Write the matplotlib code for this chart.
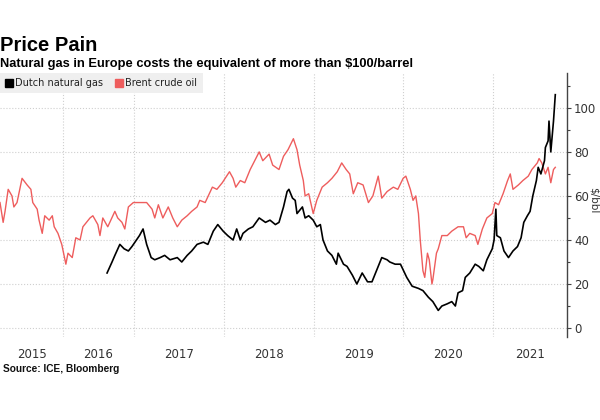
import numpy as np
import matplotlib
matplotlib.use("Agg")
import matplotlib.pyplot as plt
from matplotlib.lines import Line2D
from matplotlib.ticker import FixedLocator, MultipleLocator, NullFormatter

# Brent crude oil, $/bbl (decimal year, value)
brent_dates = [2015.00, 2015.05, 2015.08, 2015.13, 2015.19, 2015.22, 2015.27, 2015.35, 2015.43, 2015.49,
               2015.52, 2015.59, 2015.62, 2015.67, 2015.71, 2015.78, 2015.83, 2015.86, 2015.92, 2015.98,
               2016.04, 2016.07, 2016.13, 2016.18, 2016.24, 2016.28, 2016.38, 2016.42, 2016.49, 2016.52,
               2016.56, 2016.63, 2016.73, 2016.77, 2016.83, 2016.87, 2016.92, 2016.99, 2017.07, 2017.14,
               2017.20, 2017.23, 2017.27, 2017.32, 2017.38, 2017.43, 2017.48, 2017.53, 2017.59, 2017.64,
               2017.70, 2017.73, 2017.79, 2017.87, 2017.92, 2017.98, 2018.06, 2018.10, 2018.13, 2018.18,
               2018.23, 2018.29, 2018.34, 2018.39, 2018.43, 2018.50, 2018.54, 2018.61, 2018.66, 2018.71,
               2018.77, 2018.81, 2018.84, 2018.88, 2018.90, 2018.94, 2018.99, 2019.03, 2019.09, 2019.15,
               2019.20, 2019.26, 2019.31, 2019.36, 2019.40, 2019.44, 2019.49, 2019.55, 2019.61, 2019.66,
               2019.72, 2019.76, 2019.82, 2019.89, 2019.94, 2020.00, 2020.03, 2020.08, 2020.11, 2020.14,
               2020.17, 2020.19, 2020.22, 2020.24, 2020.27, 2020.29, 2020.32, 2020.33, 2020.37, 2020.39,
               2020.43, 2020.49, 2020.54, 2020.61, 2020.67, 2020.70, 2020.74, 2020.80, 2020.83, 2020.88,
               2020.93, 2020.99, 2021.02, 2021.06, 2021.11, 2021.16, 2021.19, 2021.22, 2021.28, 2021.33,
               2021.39, 2021.43, 2021.49, 2021.51, 2021.54, 2021.58, 2021.61, 2021.64, 2021.67, 2021.69]
brent_values = [57, 48, 53, 63, 60, 55, 57, 68, 65, 63,
                57, 54, 49, 43, 51, 49, 51, 46, 43, 38,
                29, 34, 32, 41, 40, 46, 50, 51, 47, 42,
                50, 46, 53, 50, 48, 45, 55, 57, 57, 57,
                54, 50, 56, 50, 55, 50, 46, 49, 51, 53,
                55, 58, 57, 64, 63, 66, 71, 68, 64, 67,
                66, 72, 76, 80, 76, 79, 74, 72, 78, 81,
                86, 81, 74, 67, 60, 61, 52, 58, 64, 66,
                68, 71, 75, 72, 70, 61, 66, 65, 57, 60,
                69, 59, 62, 64, 63, 68, 69, 63, 58, 60,
                52, 40, 26, 23, 34, 31, 20, 22, 34, 36,
                42, 42, 44, 46, 46, 41, 43, 42, 38, 45,
                50, 52, 57, 56, 61, 67, 70, 63, 65, 67,
                69, 72, 75, 77, 75, 70, 73, 66, 72, 73]

# Dutch natural gas, converted to $/bbl equivalent
gas_dates = [2016.62, 2016.69, 2016.73, 2016.80, 2016.86, 2016.92, 2016.97, 2017.01, 2017.06, 2017.10,
             2017.14, 2017.19, 2017.23, 2017.29, 2017.34, 2017.40, 2017.48, 2017.53, 2017.59, 2017.64,
             2017.70, 2017.77, 2017.82, 2017.88, 2017.93, 2017.99, 2018.04, 2018.10, 2018.14, 2018.18,
             2018.21, 2018.27, 2018.32, 2018.39, 2018.46, 2018.51, 2018.57, 2018.61, 2018.66, 2018.70,
             2018.72, 2018.76, 2018.79, 2018.81, 2018.87, 2018.90, 2018.94, 2018.99, 2019.03, 2019.07,
             2019.10, 2019.15, 2019.20, 2019.25, 2019.27, 2019.33, 2019.37, 2019.43, 2019.48, 2019.54,
             2019.60, 2019.65, 2019.71, 2019.76, 2019.82, 2019.85, 2019.91, 2019.97, 2020.04, 2020.10,
             2020.17, 2020.22, 2020.28, 2020.33, 2020.39, 2020.43, 2020.49, 2020.54, 2020.58, 2020.61,
             2020.66, 2020.69, 2020.74, 2020.80, 2020.84, 2020.89, 2020.93, 2020.99, 2021.01, 2021.03,
             2021.04, 2021.08, 2021.12, 2021.17, 2021.22, 2021.27, 2021.31, 2021.34, 2021.38, 2021.41,
             2021.44, 2021.48, 2021.50, 2021.53, 2021.57, 2021.58, 2021.61, 2021.62, 2021.64, 2021.67,
             2021.69]
gas_values = [25, 30, 33, 38, 36, 35, 37, 39, 42, 45,
              38, 32, 31, 32, 33, 31, 32, 30, 33, 35,
              38, 39, 38, 44, 47, 44, 42, 40, 45, 40,
              43, 45, 46, 50, 48, 49, 47, 48, 55, 62,
              63, 59, 58, 52, 55, 50, 51, 49, 46, 47,
              40, 35, 33, 29, 34, 29, 28, 24, 20, 25,
              21, 21, 27, 32, 31, 30, 29, 29, 23, 19,
              18, 17, 14, 12, 8, 10, 11, 12, 10, 16,
              17, 23, 25, 29, 28, 26, 31, 36, 40, 54,
              42, 41, 35, 32, 35, 37, 41, 48, 51, 53,
              60, 67, 73, 70, 76, 82, 85, 94, 80, 94,
              106]

year_labels = ['2015', '2016', '2017', '2018', '2019', '2020', '2021']

# Uneven year spacing of the original time axis
knot_years = [2015, 2016, 2017, 2018, 2019, 2020, 2021, 2022]
knot_pos = [0, 63, 134, 224, 314, 403, 493, 583]


def forward(x):
    return np.interp(x, knot_years, knot_pos)


def inverse(x):
    return np.interp(x, knot_pos, knot_years)


red = '#ee5d5d'
text_col = '#333333'

fig = plt.figure(figsize=(6, 4.2), dpi=100)
ax = fig.add_axes([0.0, 0.198, 0.945, 0.629])

ax.plot(brent_dates, brent_values, color=red, lw=1.0, zorder=3)
ax.plot(gas_dates, gas_values, color='black', lw=1.2, zorder=4)

ax.set_xscale('function', functions=(forward, inverse))
xmin, xmax = 2015.0, 2021.82
ax.set_xlim(xmin, xmax)
ax.set_ylim(-4, 116)

# Gridlines at year boundaries, labels centred in each visible year
ax.xaxis.set_major_locator(FixedLocator(knot_years[1:-1]))
ax.xaxis.set_major_formatter(NullFormatter())
mids = [(max(y, xmin) + min(y + 1, xmax)) / 2 for y in knot_years[:-1]]
ax.set_xticks(mids, year_labels, minor=True)
ax.tick_params(axis='x', which='both', length=0)
ax.tick_params(axis='x', which='minor', pad=8, labelsize=8.5, labelcolor=text_col)

ax.yaxis.tick_right()
ax.yaxis.set_major_locator(MultipleLocator(20))
ax.yaxis.set_minor_locator(MultipleLocator(10))
ax.tick_params(axis='y', which='major', length=3, width=0.8, pad=2, labelsize=8.5,
               labelcolor=text_col, color='#444444')
ax.tick_params(axis='y', which='minor', length=2, width=0.8, color='#444444')

ax.grid(True, which='major', color='#cfcfcf', linestyle=':', lw=0.8)

for side in ['top', 'left', 'bottom']:
    ax.spines[side].set_visible(False)
ax.spines['right'].set_color('#444444')
ax.spines['right'].set_linewidth(1.0)

# Legend
handles = [Line2D([], [], marker='s', ls='none', color='black', markersize=5.5),
           Line2D([], [], marker='s', ls='none', color=red, markersize=5.5)]
leg = ax.legend(handles, ['Dutch natural gas', 'Brent crude oil'], loc='upper left',
                bbox_to_anchor=(0.0, 1.0), ncol=2, frameon=True, fancybox=False,
                facecolor='#efefef', edgecolor='none', framealpha=1, fontsize=7,
                handlelength=0.7, handletextpad=0.3, columnspacing=1.3,
                borderpad=0.55, borderaxespad=0.0)
for t in leg.get_texts():
    t.set_color('#222222')

# Titles and source
fig.text(0.0, 1 - 51 / 420, 'Price Pain', fontsize=14.5, fontweight='bold',
         family='Liberation Sans', va='baseline', ha='left')
fig.text(0.0, 1 - 67 / 420, 'Natural gas in Europe costs the equivalent of more than $100/barrel',
         fontsize=9.3, fontweight='bold', family='Liberation Sans', va='baseline', ha='left')
fig.text(0.005, 1 - 372 / 420, 'Source: ICE, Bloomberg', fontsize=7.3, fontweight='bold',
         family='Liberation Sans', va='baseline', ha='left', color='#111111')

# Axis unit label at the right edge
fig.text(0.998, 1 - 200 / 420, '$/bbl', rotation=270, fontsize=7.5, color=text_col,
         ha='right', va='center')

fig.savefig('out.png', dpi=100)
